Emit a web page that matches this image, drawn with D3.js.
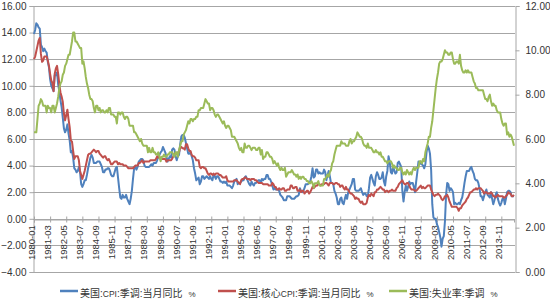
<!DOCTYPE html>
<html><head><meta charset="utf-8">
<script src="https://cdn.jsdelivr.net/npm/d3@7/dist/d3.min.js"></script>
<style>body{margin:0;background:#fff}svg{display:block}</style>
</head><body><svg id="c" width="550" height="300"></svg>
<script>
// monthly data, 1980-01 .. 2014-10
const startYear = 1980;
const cpi = [
13.9,14.2,14.7,14.6,14.4,14.3,13.1,12.9,12.6,12.8,12.6,12.5,
11.8,11.4,10.5,10.0,9.8,9.6,10.8,10.8,11.0,10.1,9.6,8.9,
8.4,7.6,6.8,6.5,6.7,7.1,6.4,5.9,5.0,5.1,4.6,3.8,
3.7,3.5,3.6,3.9,3.5,2.6,2.4,2.6,2.9,2.9,3.3,3.8,
4.2,4.6,4.8,4.6,4.2,4.2,4.2,4.3,4.3,4.3,4.1,3.9,
3.5,3.5,3.7,3.7,3.8,3.8,3.6,3.3,3.2,3.2,3.5,3.8,
3.9,3.1,2.3,1.6,1.5,1.8,1.6,1.6,1.8,1.5,1.3,1.1,
1.5,2.1,3.0,3.8,3.9,3.7,3.9,4.3,4.4,4.5,4.5,4.4,
4.0,3.9,3.9,3.9,3.9,4.0,4.1,4.0,4.2,4.2,4.2,4.4,
4.7,4.8,5.0,5.1,5.4,5.2,5.0,4.7,4.3,4.5,4.7,4.6,
5.2,5.3,5.2,4.7,4.4,4.7,4.8,5.6,6.2,6.3,6.3,6.1,
5.7,5.3,4.9,4.9,5.0,4.7,4.4,3.8,3.4,2.9,3.0,3.1,
2.6,2.8,3.2,3.2,3.0,3.1,3.2,3.1,3.0,3.2,3.0,2.9,
3.3,3.2,3.0,3.2,3.2,3.0,2.8,2.8,2.7,2.8,2.7,2.8,
2.5,2.5,2.5,2.4,2.3,2.5,2.8,2.9,3.0,2.6,2.7,2.7,
2.8,2.9,2.9,3.1,3.2,3.0,2.8,2.6,2.5,2.8,2.6,2.5,
2.7,2.7,2.8,2.9,2.9,2.7,3.0,2.9,3.0,3.0,3.3,3.3,
3.0,3.0,2.8,2.5,2.2,2.3,2.2,2.2,2.2,2.1,1.8,1.7,
1.6,1.4,1.4,1.4,1.7,1.7,1.7,1.6,1.5,1.5,1.5,1.6,
1.7,1.7,1.8,2.3,2.1,2.0,2.1,2.3,2.6,2.6,2.6,2.7,
2.8,3.2,3.8,3.1,3.2,3.7,3.7,3.4,3.5,3.4,3.4,3.4,
3.7,3.5,2.9,3.3,3.6,3.2,2.7,2.7,2.6,2.1,1.9,1.6,
1.1,1.1,1.5,1.6,1.2,1.1,1.5,1.8,1.5,2.0,2.2,2.4,
2.6,3.0,3.0,2.2,2.1,2.1,2.1,2.2,2.3,2.0,1.8,1.9,
1.9,1.7,1.7,2.3,3.1,3.3,3.0,2.7,2.5,3.2,3.5,3.3,
3.0,3.0,3.1,3.5,2.8,2.5,3.2,3.6,4.7,4.3,3.5,3.4,
4.0,3.6,3.4,3.5,4.2,4.3,4.1,3.9,2.1,1.3,2.0,2.5,
2.1,2.4,2.8,2.6,2.7,2.7,2.4,2.0,2.8,3.5,4.3,4.1,
4.3,4.1,4.0,3.8,4.1,5.0,5.5,5.3,4.9,3.7,1.1,0.1,
0.0,0.0,-0.4,-0.6,-1.0,-1.4,-2.1,-1.5,-1.3,-0.2,1.8,2.7,
2.6,2.1,2.3,2.2,2.0,1.1,1.2,1.1,1.1,1.2,1.1,1.4,
1.6,2.1,2.7,3.2,3.6,3.6,3.6,3.8,3.9,3.6,3.4,3.0,
2.9,2.9,2.7,2.3,1.7,1.7,1.4,1.7,2.0,2.2,1.8,1.7,
1.6,2.0,1.5,1.1,1.4,1.8,2.0,1.5,1.2,1.0,1.2,1.5,
1.6,1.1,1.5,2.0,2.1,2.1,2.0,1.7,1.7,1.7
];
const core = [
12.0,12.2,12.6,13.0,13.4,13.6,12.4,11.8,11.9,12.2,12.2,12.2,
11.9,11.5,10.9,10.4,10.2,9.6,10.9,11.3,11.5,10.9,10.1,9.5,
9.2,8.8,7.9,7.4,7.8,8.2,7.5,6.9,5.9,5.8,5.1,4.5,
4.7,4.7,4.7,4.4,3.6,3.3,3.0,3.3,3.6,4.0,4.4,4.8,
4.9,4.9,5.0,5.1,5.2,5.1,5.0,5.1,5.1,4.9,4.8,4.7,
4.6,4.7,4.7,4.5,4.4,4.5,4.3,4.1,4.1,4.2,4.3,4.3,
4.3,4.1,4.2,4.1,4.1,4.1,4.0,4.0,4.0,3.9,3.8,3.8,
3.8,3.8,3.8,3.9,4.0,4.0,4.0,4.2,4.2,4.3,4.4,4.2,
4.3,4.3,4.3,4.3,4.3,4.4,4.4,4.4,4.4,4.4,4.5,4.7,
4.6,4.6,4.6,4.5,4.5,4.5,4.5,4.3,4.4,4.4,4.4,4.4,
4.5,4.7,4.9,4.9,4.9,5.0,5.0,5.4,5.4,5.3,5.3,5.2,
5.6,5.6,5.3,5.1,5.1,4.8,4.7,4.7,4.6,4.4,4.4,4.4,
3.9,3.8,3.9,3.9,3.8,3.8,3.6,3.4,3.3,3.4,3.4,3.3,
3.4,3.3,3.4,3.4,3.4,3.3,3.3,3.2,3.1,3.1,3.1,3.2,
2.9,2.8,2.8,2.8,2.8,2.8,2.9,2.9,2.9,2.8,2.7,2.6,
2.9,3.0,3.0,3.1,3.1,3.0,3.0,3.0,2.9,3.0,3.0,3.0,
2.9,2.9,2.8,2.7,2.7,2.7,2.7,2.6,2.6,2.6,2.6,2.6,
2.5,2.5,2.5,2.7,2.6,2.4,2.4,2.2,2.2,2.3,2.2,2.2,
2.3,2.3,2.1,2.1,2.2,2.2,2.2,2.5,2.5,2.3,2.3,2.4,
2.4,2.1,2.1,2.2,2.0,2.1,2.1,1.9,2.0,2.1,2.1,1.9,
2.0,2.2,2.4,2.3,2.4,2.5,2.5,2.6,2.6,2.5,2.6,2.6,
2.6,2.7,2.7,2.6,2.5,2.7,2.7,2.7,2.6,2.6,2.7,2.7,
2.6,2.6,2.4,2.5,2.5,2.3,2.2,2.4,2.2,2.2,2.0,1.9,
1.9,1.8,1.7,1.5,1.6,1.5,1.5,1.3,1.2,1.3,1.1,1.1,
1.1,1.2,1.6,1.8,1.7,1.9,1.8,1.7,2.0,2.0,2.2,2.2,
2.3,2.4,2.3,2.2,2.2,2.0,2.1,2.1,2.0,2.1,2.1,2.2,
2.1,2.1,2.1,2.3,2.4,2.6,2.7,2.8,2.9,2.7,2.6,2.6,
2.7,2.7,2.5,2.3,2.2,2.2,2.2,2.1,2.1,2.2,2.3,2.4,
2.5,2.3,2.4,2.3,2.3,2.4,2.5,2.5,2.5,2.2,2.0,1.8,
1.7,1.8,1.8,1.9,1.8,1.7,1.5,1.4,1.5,1.7,1.7,1.8,
1.6,1.3,1.1,0.9,0.9,0.9,0.9,0.9,0.8,0.6,0.8,0.8,
1.0,1.1,1.2,1.3,1.5,1.6,1.8,2.0,2.0,2.1,2.2,2.2,
2.3,2.2,2.3,2.3,2.3,2.2,2.1,1.9,2.0,2.0,1.9,1.9,
1.9,2.0,1.9,1.7,1.7,1.6,1.7,1.8,1.7,1.7,1.7,1.7,
1.6,1.6,1.7,1.8,2.0,1.9,1.9,1.7,1.7,1.8
];
const unemp = [
6.3,6.3,6.3,6.9,7.5,7.6,7.8,7.7,7.5,7.5,7.5,7.2,
7.5,7.4,7.4,7.2,7.5,7.5,7.2,7.4,7.6,7.9,8.3,8.5,
8.6,8.9,9.0,9.3,9.4,9.6,9.8,9.8,10.1,10.4,10.8,10.8,
10.4,10.4,10.3,10.2,10.1,10.1,9.4,9.5,9.2,8.8,8.5,8.3,
8.0,7.8,7.8,7.7,7.4,7.2,7.5,7.5,7.3,7.4,7.2,7.3,
7.3,7.2,7.2,7.3,7.2,7.4,7.4,7.1,7.1,7.1,7.0,7.0,
6.7,7.2,7.2,7.1,7.2,7.2,7.0,6.9,7.0,7.0,6.9,6.6,
6.6,6.6,6.6,6.3,6.3,6.2,6.1,6.0,5.9,6.0,5.8,5.7,
5.7,5.7,5.7,5.4,5.6,5.4,5.4,5.6,5.4,5.4,5.3,5.3,
5.4,5.2,5.0,5.2,5.2,5.3,5.2,5.2,5.3,5.3,5.4,5.4,
5.4,5.3,5.2,5.4,5.4,5.2,5.5,5.7,5.9,5.9,6.2,6.3,
6.4,6.6,6.8,6.7,6.9,6.9,6.8,6.9,6.9,7.0,7.0,7.3,
7.3,7.4,7.4,7.4,7.6,7.8,7.7,7.6,7.6,7.3,7.4,7.4,
7.3,7.1,7.0,7.1,7.1,7.0,6.9,6.8,6.7,6.8,6.6,6.5,
6.6,6.6,6.5,6.4,6.1,6.1,6.1,6.0,5.9,5.8,5.6,5.5,
5.6,5.4,5.4,5.8,5.6,5.6,5.7,5.7,5.6,5.5,5.6,5.6,
5.6,5.5,5.5,5.6,5.6,5.3,5.5,5.1,5.2,5.2,5.4,5.4,
5.3,5.2,5.2,5.1,4.9,5.0,4.9,4.8,4.9,4.7,4.6,4.7,
4.6,4.6,4.7,4.3,4.4,4.5,4.5,4.5,4.6,4.5,4.4,4.4,
4.3,4.4,4.2,4.3,4.2,4.3,4.3,4.2,4.2,4.1,4.1,4.0,
4.0,4.1,4.0,3.8,4.0,4.0,4.0,4.1,3.9,3.9,3.9,3.9,
4.2,4.2,4.3,4.4,4.3,4.5,4.6,4.9,5.0,5.3,5.5,5.7,
5.7,5.7,5.7,5.9,5.8,5.8,5.8,5.7,5.7,5.7,5.9,6.0,
5.8,5.9,5.9,6.0,6.1,6.3,6.2,6.1,6.1,6.0,5.8,5.7,
5.7,5.6,5.8,5.6,5.6,5.6,5.5,5.4,5.4,5.5,5.4,5.4,
5.3,5.4,5.2,5.2,5.1,5.0,5.0,4.9,5.0,5.0,5.0,4.9,
4.7,4.8,4.7,4.7,4.6,4.6,4.7,4.7,4.5,4.4,4.5,4.4,
4.6,4.5,4.4,4.5,4.4,4.6,4.7,4.6,4.7,4.7,4.7,5.0,
5.0,4.9,5.1,5.0,5.4,5.6,5.8,6.1,6.1,6.5,6.8,7.3,
7.8,8.3,8.7,9.0,9.4,9.5,9.5,9.6,9.8,10.0,9.9,9.9,
9.8,9.8,9.9,9.9,9.6,9.4,9.4,9.5,9.5,9.4,9.8,9.3,
9.1,9.0,9.0,9.1,9.0,9.1,9.0,9.0,9.0,8.8,8.6,8.5,
8.3,8.3,8.2,8.2,8.2,8.2,8.2,8.0,7.8,7.8,7.7,7.9,
8.0,7.7,7.5,7.6,7.5,7.5,7.3,7.2,7.2,7.2,6.9,6.7,
6.6,6.7,6.7,6.2,6.3,6.1,6.2,6.1,5.9,5.7
];
const xTickLabels = ["1980-01","1981-03","1982-05","1983-07","1984-09","1985-11","1987-01","1988-03","1989-05","1990-07","1991-09","1992-11","1994-01","1995-03","1996-05","1997-07","1998-09","1999-11","2001-01","2002-03","2003-05","2004-07","2005-09","2006-11","2008-01","2009-03","2010-05","2011-07","2012-09","2013-11"];
const leftTicks = [-4,-2,0,2,4,6,8,10,12,14,16];
const rightTicks = [0,2,4,6,8,10,12];
const seriesNames = [["美国:","CPI",":季调:当月同比"],["美国:核心","CPI",":季调:当月同比"],["美国:失业率:季调","",""]];
const unitLabel = "%";
const colors = ["#4F81BD","#C0504D","#9BBB59"];

const categories = cpi.map((d,i)=>{
  const y = startYear + Math.floor(i/12), m = i%12+1;
  return y + "-" + (m<10?"0":"") + m;
});

const L = 33, R = 515, T = 6, B = 272;
const svg = d3.select("#c");
const font = "'Liberation Sans', Arial, 'Noto Sans CJK SC', sans-serif";
const x = d3.scalePoint().domain(categories).range([L+1, R-1]);
const yL = d3.scaleLinear().domain([-4,16]).range([B,T]);
const yR = d3.scaleLinear().domain([0,12]).range([B,T]);

// gridlines
svg.append("g").selectAll("line").data(leftTicks).join("line")
  .attr("x1",L).attr("x2",R).attr("y1",d=>Math.round(yL(d))+0.5).attr("y2",d=>Math.round(yL(d))+0.5)
  .attr("stroke","#a6a6a6").attr("stroke-width",1);

// left axis
const gl = svg.append("g").attr("transform",`translate(${L+0.5},0)`)
  .call(d3.axisLeft(yL).tickValues(leftTicks).tickFormat(d3.format(".2f")).tickSize(4).tickPadding(3));
gl.select(".domain").attr("stroke","#a6a6a6");
gl.selectAll(".tick line").attr("stroke","#a6a6a6");
gl.selectAll("text").attr("font-family",font).attr("font-size","10px").attr("fill","#333");

// right axis
const gr = svg.append("g").attr("transform",`translate(${R+0.5},0)`)
  .call(d3.axisRight(yR).tickValues(rightTicks).tickFormat(d3.format(".2f")).tickSize(4).tickPadding(6));
gr.select(".domain").attr("stroke","#a6a6a6");
gr.selectAll(".tick line").attr("stroke","#a6a6a6");
gr.selectAll("text").attr("font-family",font).attr("font-size","10px").attr("fill","#333");

// x axis at 0
const y0 = Math.round(yL(0))+0.5;
const gx = svg.append("g").attr("transform",`translate(0,${y0})`)
  .call(d3.axisBottom(x).tickValues(xTickLabels).tickSize(3).tickPadding(3));
gx.select(".domain").attr("stroke","#a6a6a6");
gx.selectAll(".tick line").attr("stroke","#a6a6a6").attr("y1",-3);
gx.selectAll("text").attr("font-family",font).attr("font-size","9.5px").attr("fill","#333")
  .attr("transform","rotate(-90)").attr("text-anchor","end").attr("dx","-0.6em").attr("dy","-0.25em").attr("x",0).attr("y",0)
  .style("dominant-baseline","middle");

// lines
const series = [
  {vals: cpi, y: yL, c: colors[0]},
  {vals: core, y: yL, c: colors[1]},
  {vals: unemp, y: yR, c: colors[2]}
];
series.forEach(s=>{
  const line = d3.line().x((d,i)=>x(categories[i])).y(d=>s.y(d));
  svg.append("path").datum(s.vals).attr("d",line).attr("fill","none")
    .attr("stroke",s.c).attr("stroke-width",2).attr("stroke-linejoin","round");
});

// legend
const legX = [60, 218, 389];
const legY = 291;
const lg = svg.append("g");
seriesNames.forEach((n,i)=>{
  lg.append("line").attr("x1",legX[i]).attr("x2",legX[i]+18).attr("y1",legY).attr("y2",legY)
    .attr("stroke",colors[i]).attr("stroke-width",2.5);
  const t = lg.append("text").attr("x",legX[i]+20).attr("y",legY).attr("dy","0.35em")
    .attr("font-family",font).attr("fill","#333");
  t.append("tspan").attr("font-size","10px").text(n[0]);
  if (n[1]) t.append("tspan").attr("font-size","8.5px").text(n[1]);
  if (n[2]) t.append("tspan").attr("font-size","10px").text(n[2]);
  t.append("tspan").attr("font-size","8px").attr("dx","6").text(unitLabel);
});
</script>
</body></html>
